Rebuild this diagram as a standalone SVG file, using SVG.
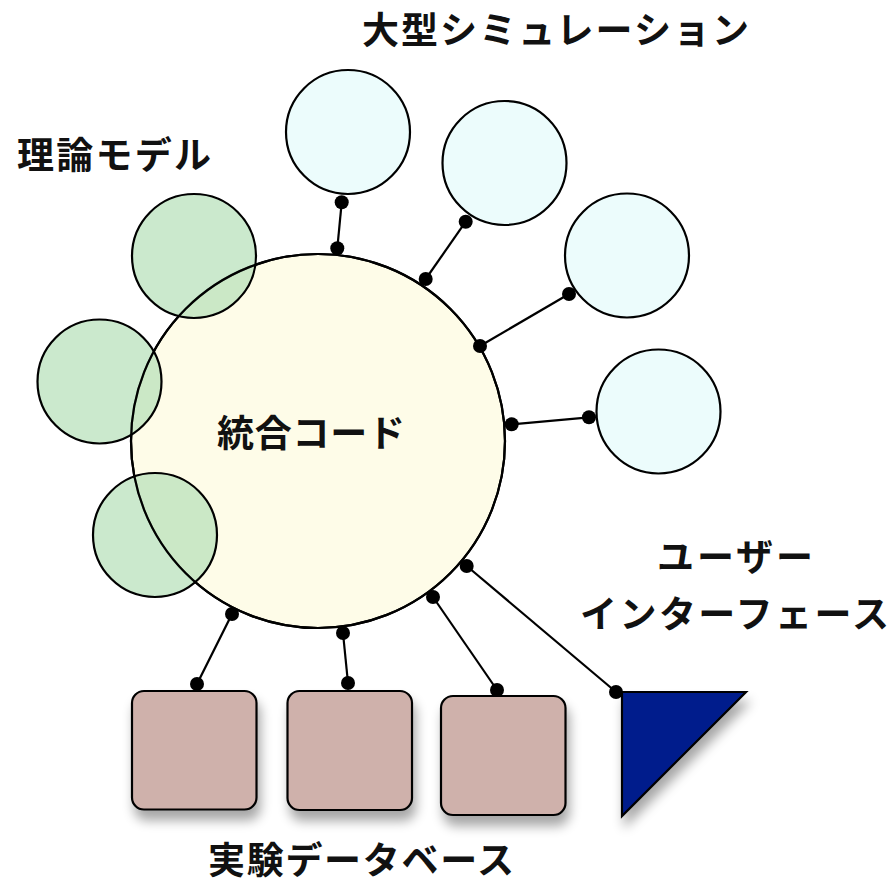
<svg xmlns="http://www.w3.org/2000/svg" width="896" height="884" viewBox="0 0 896 884">
<defs>
<filter id="sh" x="-30%" y="-30%" width="160%" height="170%">
<feGaussianBlur in="SourceAlpha" stdDeviation="6"/>
<feOffset dx="3" dy="10" result="b"/>
<feComponentTransfer><feFuncA type="linear" slope="0.35"/></feComponentTransfer>
<feMerge><feMergeNode/><feMergeNode in="SourceGraphic"/></feMerge>
</filter>
<style>
.lbl{font-family:"Noto Sans CJK JP","Noto Sans",sans-serif;font-weight:bold;font-size:37px;fill:#111}
.sim{fill:#ecfcfc;stroke:#000;stroke-width:2.2}
.th{fill:#b5dfb8;fill-opacity:0.7;stroke:#000;stroke-width:2.2}
.db{fill:#cfb1ab;stroke:#000;stroke-width:2.2}
.ln{stroke:#000;stroke-width:2.2;fill:none}
.dot{fill:#000}
</style>
</defs>
<rect width="896" height="884" fill="#fff"/>
<g id="core">
<circle cx="318" cy="441" r="187" fill="#fefce8" stroke="#000" stroke-width="2.2"/>
</g>
<g id="sim1"><circle class="sim" cx="348" cy="132" r="62"/></g>
<g id="sim2"><circle class="sim" cx="504.5" cy="163" r="62"/></g>
<g id="sim3"><circle class="sim" cx="627" cy="255.5" r="62"/></g>
<g id="sim4"><circle class="sim" cx="658.5" cy="411.5" r="62"/></g>
<g id="theory1"><circle class="th" cx="194" cy="256" r="62"/></g>
<g id="theory2"><circle class="th" cx="99.5" cy="381.5" r="62"/></g>
<g id="theory3"><circle class="th" cx="155" cy="535" r="62"/></g>
<g id="core-outline">
<circle cx="318" cy="441" r="187" fill="none" stroke="#000" stroke-width="2.2"/>
<text class="lbl" x="217" y="447" textLength="188" lengthAdjust="spacing">統合コード</text>
</g>
<g id="db1"><rect class="db" x="132" y="691" width="124.5" height="118.5" rx="12" filter="url(#sh)"/></g>
<g id="db2"><rect class="db" x="287.5" y="691" width="124.5" height="119" rx="12" filter="url(#sh)"/></g>
<g id="db3"><rect class="db" x="441" y="696" width="124.5" height="119" rx="12" filter="url(#sh)"/></g>
<g id="ui"><polygon points="622,692 746,692 622,816" fill="#021e8c" stroke="#000" stroke-width="2.2" filter="url(#sh)"/></g>
<g id="connectors">
<line class="ln" x1="341.7" y1="202.3" x2="337.3" y2="248.3"/>
<line class="ln" x1="465.7" y1="221.7" x2="425.7" y2="279"/>
<line class="ln" x1="569" y1="294" x2="480" y2="346"/>
<line class="ln" x1="589" y1="417.3" x2="511.7" y2="424.3"/>
<line class="ln" x1="466.7" y1="566" x2="616" y2="692"/>
<line class="ln" x1="433" y1="597" x2="497" y2="690"/>
<line class="ln" x1="343" y1="633" x2="348" y2="683"/>
<line class="ln" x1="232" y1="614" x2="197" y2="684"/>
<circle class="dot" cx="341.7" cy="202.3" r="7"/>
<circle class="dot" cx="337.3" cy="248.3" r="7"/>
<circle class="dot" cx="465.7" cy="221.7" r="7"/>
<circle class="dot" cx="425.7" cy="279" r="7"/>
<circle class="dot" cx="569" cy="294" r="7"/>
<circle class="dot" cx="480" cy="346" r="7"/>
<circle class="dot" cx="589" cy="417.3" r="7"/>
<circle class="dot" cx="511.7" cy="424.3" r="7"/>
<circle class="dot" cx="466.7" cy="566" r="7"/>
<circle class="dot" cx="616" cy="692" r="7"/>
<circle class="dot" cx="433" cy="597" r="7"/>
<circle class="dot" cx="497" cy="690" r="7"/>
<circle class="dot" cx="343" cy="633" r="7"/>
<circle class="dot" cx="348" cy="683" r="7"/>
<circle class="dot" cx="232" cy="614" r="7"/>
<circle class="dot" cx="197" cy="684" r="7"/>
</g>
<g id="labels">
<text class="lbl" x="362" y="44" textLength="387" lengthAdjust="spacing">大型シミュレーション</text>
<text class="lbl" x="17" y="169" textLength="194" lengthAdjust="spacing">理論モデル</text>
<text class="lbl" x="657" y="571" textLength="156" lengthAdjust="spacing">ユーザー</text>
<text class="lbl" x="580" y="628" textLength="309" lengthAdjust="spacing">インターフェース</text>
<text class="lbl" x="208" y="874" textLength="306" lengthAdjust="spacing">実験データベース</text>
</g>
</svg>
